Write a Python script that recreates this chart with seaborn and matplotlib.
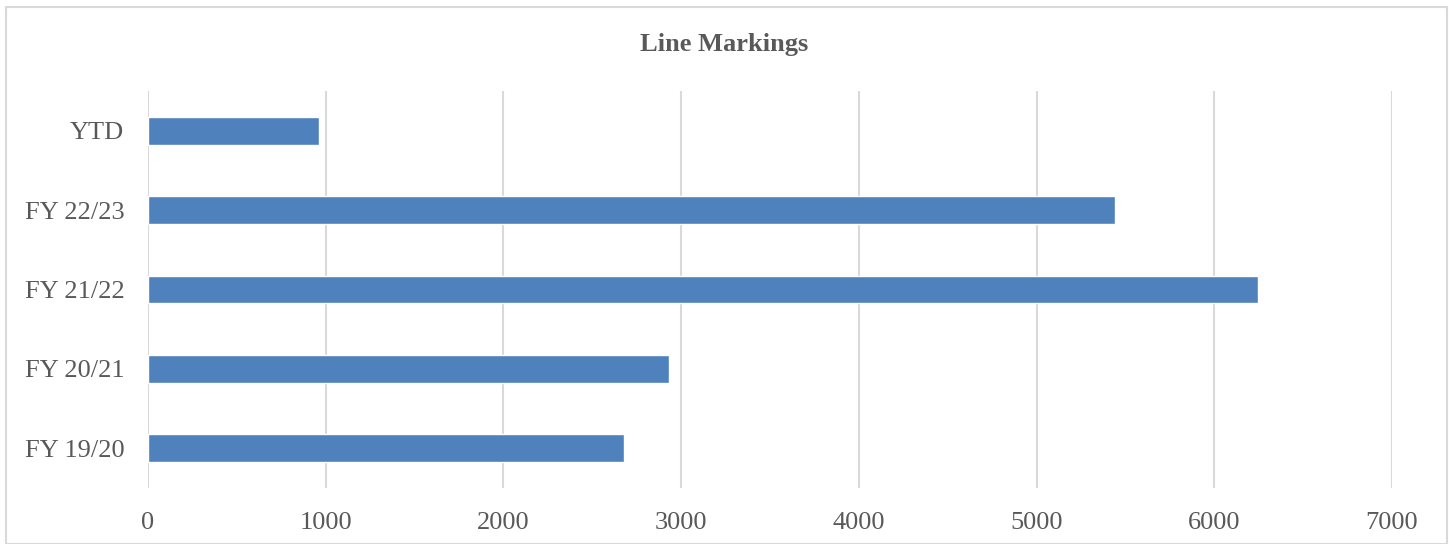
import matplotlib
matplotlib.use("Agg")
import matplotlib.pyplot as plt
import seaborn as sns
import pandas as pd
from matplotlib.patches import Rectangle

# Data
periods = ["YTD", "FY 22/23", "FY 21/22", "FY 20/21", "FY 19/20"]
markings = [962, 5440, 6245, 2932, 2677]
x_ticks = [0, 1000, 2000, 3000, 4000, 5000, 6000, 7000]

df = pd.DataFrame({"period": periods, "markings": markings})

sns.set_theme(style="white")
plt.rcParams["font.family"] = ["Liberation Serif", "DejaVu Serif"]

text_gray = "#595959"
grid_gray = "#D9D9D9"
bar_blue = "#4F81BD"

fig = plt.figure(figsize=(14.49, 5.44), dpi=100)
ax = fig.add_axes([148 / 1449, 1 - 488 / 544, (1392 - 148) / 1449, (488 - 91) / 544])

sns.barplot(data=df, x="markings", y="period", order=periods, color=bar_blue,
            saturation=1, width=0.35, orient="h", ax=ax, zorder=3)

ax.set_xlim(0, 7000)
ax.set_ylim(4.5, -0.5)
ax.set_xticks(x_ticks)
ax.set_xticklabels([str(t) for t in x_ticks])
ax.xaxis.grid(True, color=grid_gray, linewidth=1.5, zorder=0)
ax.yaxis.grid(False)
ax.set_axisbelow(True)
for s in ax.spines.values():
    s.set_visible(False)
ax.set_xlabel("")
ax.set_ylabel("")
ax.tick_params(axis="x", length=0, pad=17, labelsize=19, labelcolor=text_gray)
ax.tick_params(axis="y", length=0, pad=17, labelsize=19, labelcolor=text_gray)

fig.text(0.5, 1 - 44 / 544, "Line Markings", ha="center", va="center",
         fontsize=19, fontweight="bold", color=text_gray)

# light chart border like the spreadsheet chart area
fig.patches.append(Rectangle((6 / 1449, 0), (1447 - 6) / 1449, 1 - 7 / 544,
                             transform=fig.transFigure, fill=False,
                             edgecolor=grid_gray, linewidth=1.5))

fig.savefig("out.png", dpi=100)
